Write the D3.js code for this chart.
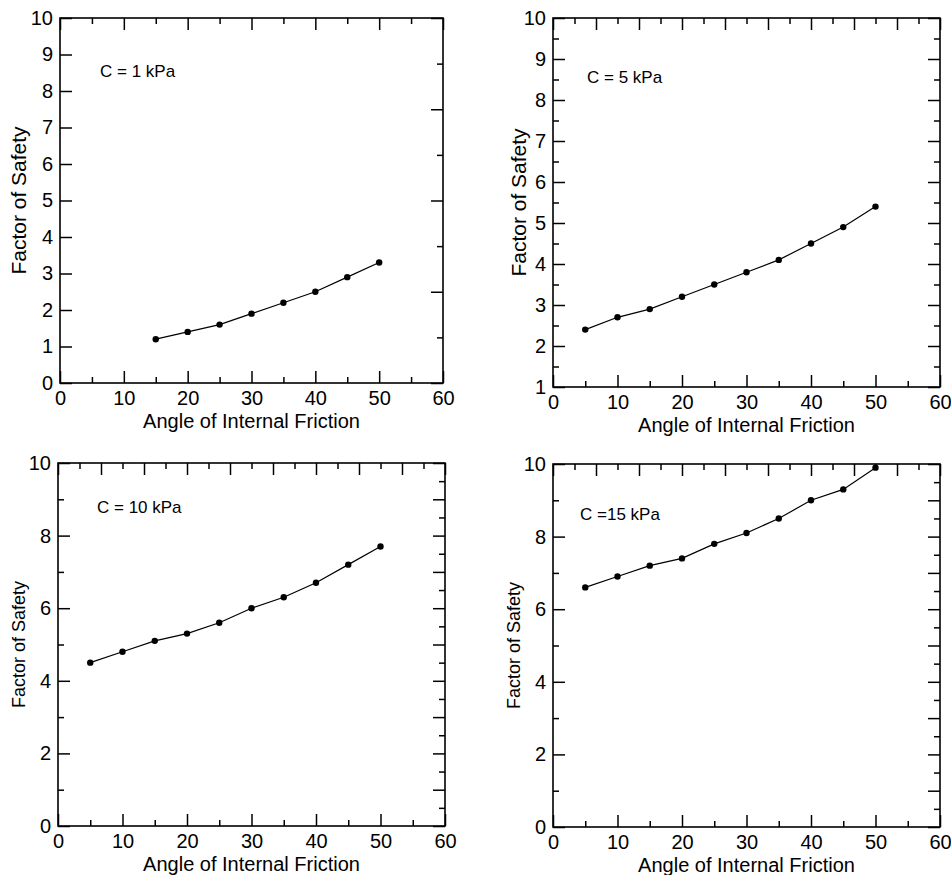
<!DOCTYPE html>
<html lang="en">
<head>
<meta charset="UTF-8">
<title>Factor of Safety vs Angle of Internal Friction</title>
<script src="https://cdnjs.cloudflare.com/ajax/libs/d3/7.8.5/d3.min.js"></script>
<style>
  html, body { margin: 0; padding: 0; background: #fff; }
  svg text { font-family: Arial, "Liberation Sans", sans-serif; fill: #000; }
</style>
</head>
<body>
<svg id="chart" width="951" height="875"></svg>
<script>
// angle of internal friction (degrees)
var anglesC1 = [15, 20, 25, 30, 35, 40, 45, 50];
var anglesAll = [5, 10, 15, 20, 25, 30, 35, 40, 45, 50];

// factor of safety, one array per cohesion value
var fsC1  = [1.2, 1.4, 1.6, 1.9, 2.2, 2.5, 2.9, 3.3];
var fsC5  = [2.4, 2.7, 2.9, 3.2, 3.5, 3.8, 4.1, 4.5, 4.9, 5.4];
var fsC10 = [4.5, 4.8, 5.1, 5.3, 5.6, 6.0, 6.3, 6.7, 7.2, 7.7];
var fsC15 = [6.6, 6.9, 7.2, 7.4, 7.8, 8.1, 8.5, 9.0, 9.3, 9.9];

var cohesionLabels = ["C = 1 kPa", "C = 5 kPa", "C = 10 kPa", "C =15 kPa"];

// tick labels
var xTickLabels = [0, 10, 20, 30, 40, 50, 60];
var yTicksC1  = [0, 1, 2, 3, 4, 5, 6, 7, 8, 9, 10];
var yTicksC5  = [1, 2, 3, 4, 5, 6, 7, 8, 9, 10];
var yTicksC10 = [0, 2, 4, 6, 8, 10];

var xTitle = "Angle of Internal Friction";
var yTitle = "Factor of Safety";

// panel layout (frame box in page pixels) + tick setup
var panels = [
  { x: anglesC1, y: fsC1, label: cohesionLabels[0], yDomain: [0, 10], yTicks: yTicksC1, yMinorStep: null,
    box: { l: 60, t: 18, r: 443, b: 383 }, topStep: 5, rightStep: 1.25,
    yTitleSize: 21, yTitleX: 26, labelPos: [100, 77] },
  { x: anglesAll, y: fsC5, label: cohesionLabels[1], yDomain: [1, 10], yTicks: yTicksC5, yMinorStep: 0.5,
    box: { l: 553, t: 18, r: 940, b: 387 }, topStep: 10 / 3, rightStep: 0.5,
    yTitleSize: 21, yTitleX: 526, labelPos: [587, 83] },
  { x: anglesAll, y: fsC10, label: cohesionLabels[2], yDomain: [0, 10], yTicks: yTicksC10, yMinorStep: 1,
    box: { l: 58, t: 463, r: 445, b: 826 }, topStep: 10 / 3, rightStep: 0.5,
    yTitleSize: 18, yTitleX: 25, labelPos: [97, 513] },
  { x: anglesAll, y: fsC15, label: cohesionLabels[3], yDomain: [0, 10], yTicks: yTicksC10, yMinorStep: 1,
    box: { l: 553, t: 464, r: 940, b: 827 }, topStep: 10 / 3, rightStep: 0.5,
    yTitleSize: 18, yTitleX: 520, labelPos: [580, 520] }
];

var svg = d3.select("#chart");
var MAJOR = 12, MINOR = 6;
var TICK_FONT = 20;

function steps(lo, hi, step) {
  var out = [];
  var n = Math.round((hi - lo) / step);
  for (var i = 0; i <= n; i++) out.push(lo + i * step);
  return out;
}

function styleAxis(g) {
  g.select(".domain").remove();
  g.selectAll(".tick line").attr("stroke", "#000").attr("stroke-width", 1.5);
  g.attr("font-family", "Arial, 'Liberation Sans', sans-serif").attr("font-size", TICK_FONT);
  g.selectAll(".tick text").attr("fill", "#000");
}

panels.forEach(function(p) {
  var bx = p.box;
  var xScale = d3.scaleLinear().domain([0, 60]).range([bx.l, bx.r]);
  var yScale = d3.scaleLinear().domain(p.yDomain).range([bx.b, bx.t]);
  var g = svg.append("g");

  // bottom axis: labelled every 10, minor every 5
  g.append("g").attr("transform", "translate(0," + bx.b + ")")
    .call(d3.axisBottom(xScale).tickValues(xTickLabels).tickSize(-MAJOR).tickPadding(8).tickFormat(d3.format("d")))
    .call(styleAxis);
  g.append("g").attr("transform", "translate(0," + bx.b + ")")
    .call(d3.axisBottom(xScale).tickValues(steps(5, 55, 10)).tickSize(-MINOR).tickFormat(""))
    .call(styleAxis);

  // left axis
  g.append("g").attr("transform", "translate(" + bx.l + ",0)")
    .call(d3.axisLeft(yScale).tickValues(p.yTicks).tickSize(-MAJOR).tickPadding(7).tickFormat(d3.format("d")))
    .call(styleAxis);
  if (p.yMinorStep) {
    var minor = steps(p.yDomain[0], p.yDomain[1], p.yMinorStep).filter(function(v) { return p.yTicks.indexOf(v) < 0; });
    g.append("g").attr("transform", "translate(" + bx.l + ",0)")
      .call(d3.axisLeft(yScale).tickValues(minor).tickSize(-MINOR).tickFormat(""))
      .call(styleAxis);
  }

  // top axis: unlabelled, alternating long / short
  var topVals = steps(0, 60, p.topStep);
  g.append("g").attr("transform", "translate(0," + bx.t + ")")
    .call(d3.axisTop(xScale).tickValues(topVals.filter(function(v, i) { return i % 2 === 0; })).tickSize(-MAJOR).tickFormat(""))
    .call(styleAxis);
  g.append("g").attr("transform", "translate(0," + bx.t + ")")
    .call(d3.axisTop(xScale).tickValues(topVals.filter(function(v, i) { return i % 2 === 1; })).tickSize(-MINOR).tickFormat(""))
    .call(styleAxis);

  // right axis: unlabelled, alternating long / short
  var rightVals = steps(p.yDomain[0], p.yDomain[1], p.rightStep);
  g.append("g").attr("transform", "translate(" + bx.r + ",0)")
    .call(d3.axisRight(yScale).tickValues(rightVals.filter(function(v, i) { return i % 2 === 0; })).tickSize(-MAJOR).tickFormat(""))
    .call(styleAxis);
  g.append("g").attr("transform", "translate(" + bx.r + ",0)")
    .call(d3.axisRight(yScale).tickValues(rightVals.filter(function(v, i) { return i % 2 === 1; })).tickSize(-MINOR).tickFormat(""))
    .call(styleAxis);

  // frame
  g.append("rect")
    .attr("x", bx.l).attr("y", bx.t)
    .attr("width", bx.r - bx.l).attr("height", bx.b - bx.t)
    .attr("fill", "none").attr("stroke", "#000").attr("stroke-width", 1.6);

  // series
  var pts = p.x.map(function(a, i) { return { a: a, fs: p.y[i] }; });
  var line = d3.line().x(function(d) { return xScale(d.a); }).y(function(d) { return yScale(d.fs); });
  g.append("path").datum(pts)
    .attr("d", line).attr("fill", "none").attr("stroke", "#000").attr("stroke-width", 1.2);
  g.selectAll("circle.pt").data(pts).enter().append("circle")
    .attr("class", "pt")
    .attr("cx", function(d) { return xScale(d.a); })
    .attr("cy", function(d) { return yScale(d.fs); })
    .attr("r", 3.2).attr("fill", "#000");

  // annotation
  g.append("text").attr("x", p.labelPos[0]).attr("y", p.labelPos[1])
    .style("font-size", "17px").text(p.label);

  // axis titles
  g.append("text")
    .attr("x", (bx.l + bx.r) / 2).attr("y", bx.b + 45)
    .attr("text-anchor", "middle").style("font-size", "20px").text(xTitle);
  g.append("text")
    .attr("transform", "translate(" + p.yTitleX + "," + (bx.t + bx.b) / 2 + ") rotate(-90)")
    .attr("text-anchor", "middle").style("font-size", p.yTitleSize + "px").text(yTitle);
});
</script>
</body>
</html>
